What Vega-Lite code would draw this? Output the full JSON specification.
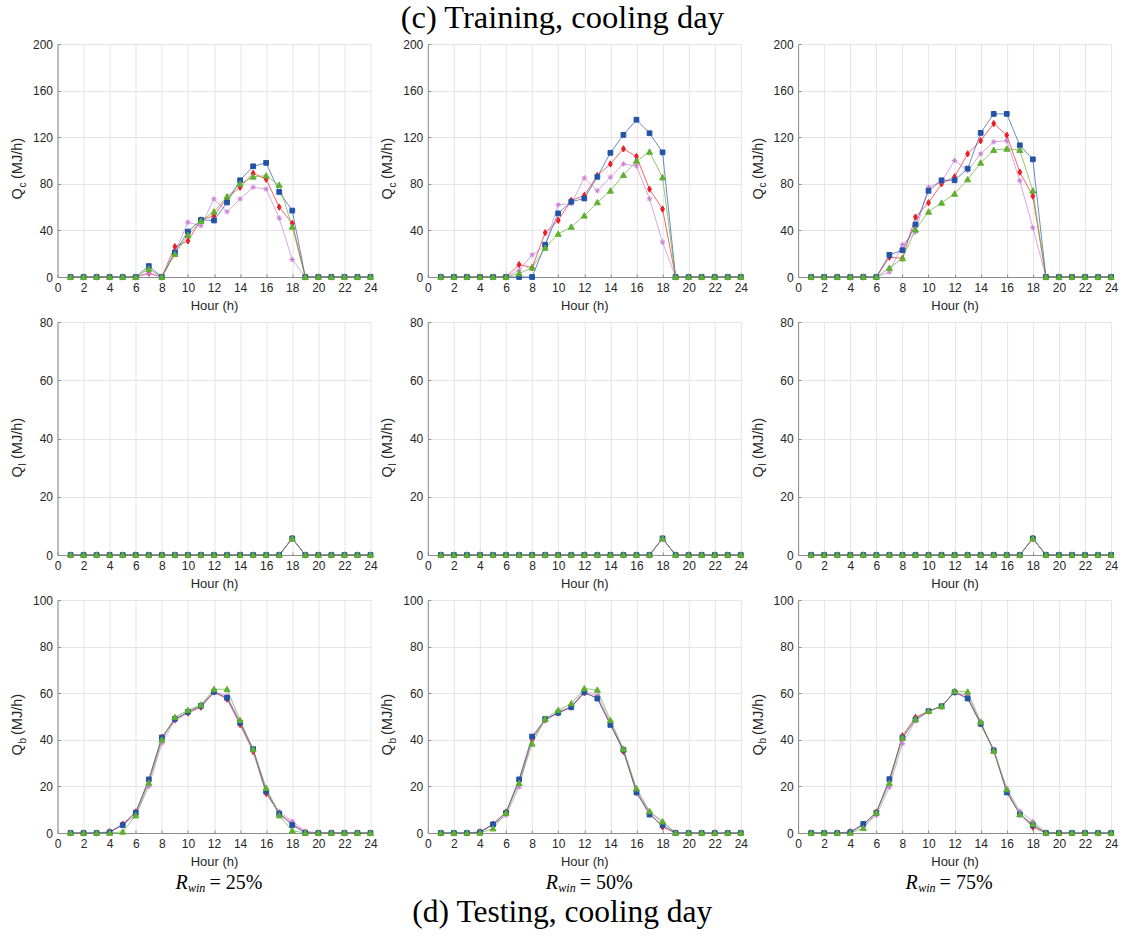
{
"$schema": "https://vega.github.io/schema/vega-lite/v6.json",
"background": "white",
"padding": {"left": 9.5, "top": 1, "right": 5, "bottom": 5},
"data": {"values": [
{"p":"c25","h":1,"A":0,"B":0,"C":0,"D":0},{"p":"c25","h":2,"A":0,"B":0,"C":0,"D":0},{"p":"c25","h":3,"A":0,"B":0,"C":0,"D":0},{"p":"c25","h":4,"A":0,"B":0,"C":0,"D":0},{"p":"c25","h":5,"A":0,"B":0,"C":0,"D":0},{"p":"c25","h":6,"A":0,"B":0,"C":0,"D":0},
{"p":"c25","h":7,"A":9.4,"B":3.4,"C":7,"D":3},{"p":"c25","h":8,"A":0,"B":0,"C":0,"D":0},{"p":"c25","h":9,"A":21,"B":26,"C":19.5,"D":21},{"p":"c25","h":10,"A":39,"B":31,"C":36,"D":47},
{"p":"c25","h":11,"A":49,"B":49,"C":48,"D":44},{"p":"c25","h":12,"A":48.5,"B":52.5,"C":56,"D":67},{"p":"c25","h":13,"A":64,"B":68,"C":69,"D":56},{"p":"c25","h":14,"A":83,"B":77,"C":80,"D":67},
{"p":"c25","h":15,"A":95,"B":89,"C":86,"D":77},{"p":"c25","h":16,"A":98,"B":84,"C":87,"D":75.5},{"p":"c25","h":17,"A":73,"B":60,"C":79,"D":50.5},{"p":"c25","h":18,"A":57,"B":46,"C":43,"D":15},
{"p":"c25","h":19,"A":0,"B":0,"C":0,"D":0},{"p":"c25","h":20,"A":0,"B":0,"C":0,"D":0},{"p":"c25","h":21,"A":0,"B":0,"C":0,"D":0},{"p":"c25","h":22,"A":0,"B":0,"C":0,"D":0},{"p":"c25","h":23,"A":0,"B":0,"C":0,"D":0},{"p":"c25","h":24,"A":0,"B":0,"C":0,"D":0},

{"p":"c50","h":1,"A":0,"B":0,"C":0,"D":0},{"p":"c50","h":2,"A":0,"B":0,"C":0,"D":0},{"p":"c50","h":3,"A":0,"B":0,"C":0,"D":0},{"p":"c50","h":4,"A":0,"B":0,"C":0,"D":0},{"p":"c50","h":5,"A":0,"B":0,"C":0,"D":0},{"p":"c50","h":6,"A":0,"B":0,"C":0,"D":0},
{"p":"c50","h":7,"A":0,"B":10.6,"C":3,"D":5.7},{"p":"c50","h":8,"A":0,"B":8,"C":8,"D":19},{"p":"c50","h":9,"A":27.7,"B":38,"C":25,"D":27},{"p":"c50","h":10,"A":54.6,"B":48.6,"C":37,"D":62},
{"p":"c50","h":11,"A":64.6,"B":65.7,"C":43,"D":63},{"p":"c50","h":12,"A":67.4,"B":70,"C":52.6,"D":85},{"p":"c50","h":13,"A":86,"B":87,"C":64,"D":74},{"p":"c50","h":14,"A":106.6,"B":97,"C":74,"D":85.7},
{"p":"c50","h":15,"A":122,"B":110,"C":87.4,"D":97},{"p":"c50","h":16,"A":135,"B":103.4,"C":99.7,"D":95.4},{"p":"c50","h":17,"A":123.4,"B":75.4,"C":107.4,"D":67},{"p":"c50","h":18,"A":107,"B":58.3,"C":85.4,"D":30},
{"p":"c50","h":19,"A":0,"B":0,"C":0,"D":0},{"p":"c50","h":20,"A":0,"B":0,"C":0,"D":0},{"p":"c50","h":21,"A":0,"B":0,"C":0,"D":0},{"p":"c50","h":22,"A":0,"B":0,"C":0,"D":0},{"p":"c50","h":23,"A":0,"B":0,"C":0,"D":0},{"p":"c50","h":24,"A":0,"B":0,"C":0,"D":0},

{"p":"c75","h":1,"A":0,"B":0,"C":0,"D":0},{"p":"c75","h":2,"A":0,"B":0,"C":0,"D":0},{"p":"c75","h":3,"A":0,"B":0,"C":0,"D":0},{"p":"c75","h":4,"A":0,"B":0,"C":0,"D":0},{"p":"c75","h":5,"A":0,"B":0,"C":0,"D":0},{"p":"c75","h":6,"A":0,"B":0,"C":0,"D":0},
{"p":"c75","h":7,"A":19,"B":17,"C":7.7,"D":4.3},{"p":"c75","h":8,"A":23,"B":16,"C":16,"D":27.7},{"p":"c75","h":9,"A":45,"B":51.4,"C":40.6,"D":38.6},{"p":"c75","h":10,"A":74,"B":63.7,"C":56,"D":77},
{"p":"c75","h":11,"A":83,"B":80,"C":63.7,"D":82},{"p":"c75","h":12,"A":83,"B":86,"C":71.4,"D":100},{"p":"c75","h":13,"A":93,"B":105.7,"C":83.7,"D":91.4},{"p":"c75","h":14,"A":123.7,"B":117,"C":98,"D":105.7},
{"p":"c75","h":15,"A":140,"B":131.7,"C":109,"D":116},{"p":"c75","h":16,"A":140,"B":121.7,"C":110,"D":117},{"p":"c75","h":17,"A":113,"B":90,"C":109,"D":82.6},{"p":"c75","h":18,"A":101,"B":69.4,"C":74,"D":42.3},
{"p":"c75","h":19,"A":0,"B":0,"C":0,"D":0},{"p":"c75","h":20,"A":0,"B":0,"C":0,"D":0},{"p":"c75","h":21,"A":0,"B":0,"C":0,"D":0},{"p":"c75","h":22,"A":0,"B":0,"C":0,"D":0},{"p":"c75","h":23,"A":0,"B":0,"C":0,"D":0},{"p":"c75","h":24,"A":0,"B":0,"C":0,"D":0},

{"p":"l25","h":1,"A":0,"B":0,"C":0,"D":0},{"p":"l25","h":2,"A":0,"B":0,"C":0,"D":0},{"p":"l25","h":3,"A":0,"B":0,"C":0,"D":0},{"p":"l25","h":4,"A":0,"B":0,"C":0,"D":0},{"p":"l25","h":5,"A":0,"B":0,"C":0,"D":0},{"p":"l25","h":6,"A":0,"B":0,"C":0,"D":0},
{"p":"l25","h":7,"A":0,"B":0,"C":0,"D":0},{"p":"l25","h":8,"A":0,"B":0,"C":0,"D":0},{"p":"l25","h":9,"A":0,"B":0,"C":0,"D":0},{"p":"l25","h":10,"A":0,"B":0,"C":0,"D":0},{"p":"l25","h":11,"A":0,"B":0,"C":0,"D":0},{"p":"l25","h":12,"A":0,"B":0,"C":0,"D":0},
{"p":"l25","h":13,"A":0,"B":0,"C":0,"D":0},{"p":"l25","h":14,"A":0,"B":0,"C":0,"D":0},{"p":"l25","h":15,"A":0,"B":0,"C":0,"D":0},{"p":"l25","h":16,"A":0,"B":0,"C":0,"D":0},{"p":"l25","h":17,"A":0,"B":0,"C":0,"D":0},{"p":"l25","h":18,"A":5.7,"B":5.7,"C":5.7,"D":5.7},
{"p":"l25","h":19,"A":0,"B":0,"C":0,"D":0},{"p":"l25","h":20,"A":0,"B":0,"C":0,"D":0},{"p":"l25","h":21,"A":0,"B":0,"C":0,"D":0},{"p":"l25","h":22,"A":0,"B":0,"C":0,"D":0},{"p":"l25","h":23,"A":0,"B":0,"C":0,"D":0},{"p":"l25","h":24,"A":0,"B":0,"C":0,"D":0},

{"p":"l50","h":1,"A":0,"B":0,"C":0,"D":0},{"p":"l50","h":2,"A":0,"B":0,"C":0,"D":0},{"p":"l50","h":3,"A":0,"B":0,"C":0,"D":0},{"p":"l50","h":4,"A":0,"B":0,"C":0,"D":0},{"p":"l50","h":5,"A":0,"B":0,"C":0,"D":0},{"p":"l50","h":6,"A":0,"B":0,"C":0,"D":0},
{"p":"l50","h":7,"A":0,"B":0,"C":0,"D":0},{"p":"l50","h":8,"A":0,"B":0,"C":0,"D":0},{"p":"l50","h":9,"A":0,"B":0,"C":0,"D":0},{"p":"l50","h":10,"A":0,"B":0,"C":0,"D":0},{"p":"l50","h":11,"A":0,"B":0,"C":0,"D":0},{"p":"l50","h":12,"A":0,"B":0,"C":0,"D":0},
{"p":"l50","h":13,"A":0,"B":0,"C":0,"D":0},{"p":"l50","h":14,"A":0,"B":0,"C":0,"D":0},{"p":"l50","h":15,"A":0,"B":0,"C":0,"D":0},{"p":"l50","h":16,"A":0,"B":0,"C":0,"D":0},{"p":"l50","h":17,"A":0,"B":0,"C":0,"D":0},{"p":"l50","h":18,"A":5.7,"B":5.7,"C":5.7,"D":5.7},
{"p":"l50","h":19,"A":0,"B":0,"C":0,"D":0},{"p":"l50","h":20,"A":0,"B":0,"C":0,"D":0},{"p":"l50","h":21,"A":0,"B":0,"C":0,"D":0},{"p":"l50","h":22,"A":0,"B":0,"C":0,"D":0},{"p":"l50","h":23,"A":0,"B":0,"C":0,"D":0},{"p":"l50","h":24,"A":0,"B":0,"C":0,"D":0},

{"p":"l75","h":1,"A":0,"B":0,"C":0,"D":0},{"p":"l75","h":2,"A":0,"B":0,"C":0,"D":0},{"p":"l75","h":3,"A":0,"B":0,"C":0,"D":0},{"p":"l75","h":4,"A":0,"B":0,"C":0,"D":0},{"p":"l75","h":5,"A":0,"B":0,"C":0,"D":0},{"p":"l75","h":6,"A":0,"B":0,"C":0,"D":0},
{"p":"l75","h":7,"A":0,"B":0,"C":0,"D":0},{"p":"l75","h":8,"A":0,"B":0,"C":0,"D":0},{"p":"l75","h":9,"A":0,"B":0,"C":0,"D":0},{"p":"l75","h":10,"A":0,"B":0,"C":0,"D":0},{"p":"l75","h":11,"A":0,"B":0,"C":0,"D":0},{"p":"l75","h":12,"A":0,"B":0,"C":0,"D":0},
{"p":"l75","h":13,"A":0,"B":0,"C":0,"D":0},{"p":"l75","h":14,"A":0,"B":0,"C":0,"D":0},{"p":"l75","h":15,"A":0,"B":0,"C":0,"D":0},{"p":"l75","h":16,"A":0,"B":0,"C":0,"D":0},{"p":"l75","h":17,"A":0,"B":0,"C":0,"D":0},{"p":"l75","h":18,"A":5.7,"B":5.7,"C":5.7,"D":5.7},
{"p":"l75","h":19,"A":0,"B":0,"C":0,"D":0},{"p":"l75","h":20,"A":0,"B":0,"C":0,"D":0},{"p":"l75","h":21,"A":0,"B":0,"C":0,"D":0},{"p":"l75","h":22,"A":0,"B":0,"C":0,"D":0},{"p":"l75","h":23,"A":0,"B":0,"C":0,"D":0},{"p":"l75","h":24,"A":0,"B":0,"C":0,"D":0},

{"p":"b25","h":1,"A":0,"B":0,"C":0,"D":0},{"p":"b25","h":2,"A":0,"B":0,"C":0,"D":0},{"p":"b25","h":3,"A":0,"B":0,"C":0,"D":0},{"p":"b25","h":4,"A":0.3,"B":0.5,"C":0,"D":0.3},
{"p":"b25","h":5,"A":3.4,"B":3.8,"C":0.5,"D":3.5},{"p":"b25","h":6,"A":8.7,"B":9,"C":7.5,"D":7.5},{"p":"b25","h":7,"A":23,"B":22.5,"C":21.5,"D":20},{"p":"b25","h":8,"A":41,"B":41,"C":40,"D":38.5},
{"p":"b25","h":9,"A":49,"B":48.5,"C":49.7,"D":48.5},{"p":"b25","h":10,"A":52,"B":51.5,"C":52.7,"D":52},{"p":"b25","h":11,"A":54.6,"B":54,"C":55,"D":54.5},{"p":"b25","h":12,"A":60.6,"B":60.5,"C":61.7,"D":60.5},
{"p":"b25","h":13,"A":58,"B":57.5,"C":61.7,"D":59},{"p":"b25","h":14,"A":47.3,"B":46.5,"C":48.4,"D":47.5},{"p":"b25","h":15,"A":36,"B":35,"C":36,"D":35.5},{"p":"b25","h":16,"A":17.8,"B":17,"C":19.3,"D":18.5},
{"p":"b25","h":17,"A":8.3,"B":8.5,"C":7.5,"D":9.2},{"p":"b25","h":18,"A":3.4,"B":4,"C":1,"D":5},{"p":"b25","h":19,"A":0,"B":0.3,"C":0,"D":0.8},{"p":"b25","h":20,"A":0,"B":0,"C":0,"D":0},
{"p":"b25","h":21,"A":0,"B":0,"C":0,"D":0},{"p":"b25","h":22,"A":0,"B":0,"C":0,"D":0},{"p":"b25","h":23,"A":0,"B":0,"C":0,"D":0},{"p":"b25","h":24,"A":0,"B":0,"C":0,"D":0},

{"p":"b50","h":1,"A":0,"B":0,"C":0,"D":0},{"p":"b50","h":2,"A":0,"B":0,"C":0,"D":0},{"p":"b50","h":3,"A":0,"B":0,"C":0,"D":0},{"p":"b50","h":4,"A":0.3,"B":0.5,"C":0,"D":0.3},
{"p":"b50","h":5,"A":3.7,"B":3.8,"C":1.9,"D":3.5},{"p":"b50","h":6,"A":8.7,"B":9,"C":8.6,"D":7.6},{"p":"b50","h":7,"A":23,"B":22.5,"C":21.4,"D":19.7},{"p":"b50","h":8,"A":41.4,"B":40.3,"C":38.3,"D":40.9},
{"p":"b50","h":9,"A":48.9,"B":48.5,"C":49,"D":48.3},{"p":"b50","h":10,"A":51.6,"B":51.5,"C":52.7,"D":52},{"p":"b50","h":11,"A":54,"B":54,"C":55.6,"D":54.5},{"p":"b50","h":12,"A":60.4,"B":60.2,"C":62,"D":61},
{"p":"b50","h":13,"A":57.7,"B":58,"C":61.4,"D":59},{"p":"b50","h":14,"A":46.4,"B":46.8,"C":48.4,"D":47.5},{"p":"b50","h":15,"A":35.7,"B":35,"C":36.1,"D":35.5},{"p":"b50","h":16,"A":17.4,"B":17.5,"C":19.1,"D":18.5},
{"p":"b50","h":17,"A":7.9,"B":8.5,"C":9.3,"D":9},{"p":"b50","h":18,"A":3.3,"B":2.6,"C":4.9,"D":4.5},{"p":"b50","h":19,"A":0,"B":0,"C":0,"D":0.3},{"p":"b50","h":20,"A":0,"B":0,"C":0,"D":0},
{"p":"b50","h":21,"A":0,"B":0,"C":0,"D":0},{"p":"b50","h":22,"A":0,"B":0,"C":0,"D":0},{"p":"b50","h":23,"A":0,"B":0,"C":0,"D":0},{"p":"b50","h":24,"A":0,"B":0,"C":0,"D":0},

{"p":"b75","h":1,"A":0,"B":0,"C":0,"D":0},{"p":"b75","h":2,"A":0,"B":0,"C":0,"D":0},{"p":"b75","h":3,"A":0,"B":0,"C":0,"D":0},{"p":"b75","h":4,"A":0.3,"B":0.5,"C":0,"D":0.3},
{"p":"b75","h":5,"A":3.9,"B":3.5,"C":2.1,"D":3.2},{"p":"b75","h":6,"A":8.7,"B":9,"C":8.7,"D":7.5},{"p":"b75","h":7,"A":23.1,"B":22.5,"C":21.4,"D":19.7},{"p":"b75","h":8,"A":40.9,"B":41.7,"C":40.8,"D":38.3},
{"p":"b75","h":9,"A":48.7,"B":49.6,"C":48.8,"D":48.3},{"p":"b75","h":10,"A":52.3,"B":52.3,"C":52.3,"D":52},{"p":"b75","h":11,"A":54.4,"B":54.4,"C":54.4,"D":54.5},{"p":"b75","h":12,"A":60.4,"B":60.5,"C":60.9,"D":60.5},
{"p":"b75","h":13,"A":57.7,"B":58,"C":60.6,"D":59},{"p":"b75","h":14,"A":46.9,"B":46.8,"C":47.7,"D":47.5},{"p":"b75","h":15,"A":35.4,"B":35.5,"C":35.2,"D":35.8},{"p":"b75","h":16,"A":17.4,"B":17.8,"C":18.7,"D":19.1},
{"p":"b75","h":17,"A":8,"B":8.3,"C":8,"D":9.4},{"p":"b75","h":18,"A":3.4,"B":2.5,"C":3.9,"D":4.9},{"p":"b75","h":19,"A":0,"B":0,"C":0,"D":0.3},{"p":"b75","h":20,"A":0,"B":0,"C":0,"D":0},
{"p":"b75","h":21,"A":0,"B":0,"C":0,"D":0},{"p":"b75","h":22,"A":0,"B":0,"C":0,"D":0},{"p":"b75","h":23,"A":0,"B":0,"C":0,"D":0},{"p":"b75","h":24,"A":0,"B":0,"C":0,"D":0}
]},
"transform": [{"fold": ["B", "D", "A", "C"], "as": ["s", "v"]}],
"columns": 3,
"spacing": {"row": 45, "column": 57.3},
"bounds": "flush",
"concat": [
{"width": 313, "height": 233, "transform": [{"filter": "datum.p === 'c25'"}],
 "layer": [
  {"mark": {"type": "line", "strokeWidth": 0.8, "strokeOpacity": 0.85},
   "encoding": {
    "x": {"field": "h", "type": "quantitative", "scale": {"domain": [0, 24], "nice": false, "zero": false}, "axis": {"values": [0,2,4,6,8,10,12,14,16,18,20,22,24], "labelFlush": false, "labelOverlap": false, "title": "Hour (h)", "titleX": 156.5, "titleY": 32, "titleAlign": "center", "titleBaseline": "alphabetic", "titleFontSize": 13}},
    "y": {"field": "v", "type": "quantitative", "scale": {"domain": [0, 200], "nice": false}, "axis": {"values": [0,40,80,120,160,200], "title": "Q", "titleFontSize": 14.5, "titleAngle": 270, "titleX": -36, "titleY": 155, "titleAlign": "left", "titleBaseline": "alphabetic"}},
    "color": {"field": "s", "type": "nominal", "scale": {"domain": ["A","B","C","D"], "range": ["#2353a8","#ed1c24","#5fb030","#c87dd2"]}, "legend": null}}},
  {"mark": {"type": "point", "filled": true, "opacity": 1, "strokeWidth": 1, "size": 40},
   "encoding": {
    "x": {"field": "h", "type": "quantitative", "axis": null},
    "y": {"field": "v", "type": "quantitative", "axis": {"orient": "left", "title": "c", "labels": false, "ticks": false, "domain": false, "grid": false, "titleFontSize": 10, "titleAngle": 270, "titleX": -32.5, "titleY": 143, "titleAlign": "left", "titleBaseline": "alphabetic"}},
    "color": {"field": "s", "type": "nominal", "scale": {"domain": ["A","B","C","D"], "range": ["#2353a8","#ed1c24","#5fb030","#c87dd2"]}, "legend": null},
    "stroke": {"field": "s", "type": "nominal", "scale": {"domain": ["A","B","C","D"], "range": ["#2353a8","#ed1c24","#5fb030","#c87dd2"]}, "legend": null},
    "shape": {"field": "s", "type": "nominal", "scale": {"domain": ["A","B","C","D"], "range": ["M-0.75,-0.75L0.75,-0.75L0.75,0.75L-0.75,0.75Z","M0,-1L0.6,0L0,1L-0.6,0Z","M0,-0.95L0.95,0.75L-0.95,0.75Z","M-0.85,0L0.85,0M0,-0.85L0,0.85M-0.6,-0.6L0.6,0.6M-0.6,0.6L0.6,-0.6"]}, "legend": null}}},
  {"mark": {"type": "point", "opacity": 0},
   "encoding": {
    "x": {"field": "h", "type": "quantitative", "axis": null},
    "y": {"field": "v", "type": "quantitative", "axis": {"orient": "left", "title": "(MJ/h)", "labels": false, "ticks": false, "domain": false, "grid": false, "titleFontSize": 14.5, "titleAngle": 270, "titleX": -36, "titleY": 134.5, "titleAlign": "left", "titleBaseline": "alphabetic"}}}}
 ],
 "resolve": {"axis": {"x": "independent", "y": "independent"}}},

{"width": 313, "height": 233, "transform": [{"filter": "datum.p === 'c50'"}],
 "layer": [
  {"mark": {"type": "line", "strokeWidth": 0.8, "strokeOpacity": 0.85},
   "encoding": {
    "x": {"field": "h", "type": "quantitative", "scale": {"domain": [0, 24], "nice": false, "zero": false}, "axis": {"values": [0,2,4,6,8,10,12,14,16,18,20,22,24], "labelFlush": false, "labelOverlap": false, "title": "Hour (h)", "titleX": 156.5, "titleY": 32, "titleAlign": "center", "titleBaseline": "alphabetic", "titleFontSize": 13}},
    "y": {"field": "v", "type": "quantitative", "scale": {"domain": [0, 200], "nice": false}, "axis": {"values": [0,40,80,120,160,200], "title": "Q", "titleFontSize": 14.5, "titleAngle": 270, "titleX": -36, "titleY": 155, "titleAlign": "left", "titleBaseline": "alphabetic"}},
    "color": {"field": "s", "type": "nominal", "scale": {"domain": ["A","B","C","D"], "range": ["#2353a8","#ed1c24","#5fb030","#c87dd2"]}, "legend": null}}},
  {"mark": {"type": "point", "filled": true, "opacity": 1, "strokeWidth": 1, "size": 40},
   "encoding": {
    "x": {"field": "h", "type": "quantitative", "axis": {"orient": "top", "title": "(c) Training, cooling day", "labels": false, "ticks": false, "domain": false, "grid": false, "titleFont": "Liberation Serif", "titleFontSize": 32.5, "titleColor": "#000000", "titleX": 134, "titleY": -16.3, "titleAlign": "center", "titleBaseline": "alphabetic"}},
    "y": {"field": "v", "type": "quantitative", "axis": {"orient": "left", "title": "c", "labels": false, "ticks": false, "domain": false, "grid": false, "titleFontSize": 10, "titleAngle": 270, "titleX": -32.5, "titleY": 143, "titleAlign": "left", "titleBaseline": "alphabetic"}},
    "color": {"field": "s", "type": "nominal", "scale": {"domain": ["A","B","C","D"], "range": ["#2353a8","#ed1c24","#5fb030","#c87dd2"]}, "legend": null},
    "stroke": {"field": "s", "type": "nominal", "scale": {"domain": ["A","B","C","D"], "range": ["#2353a8","#ed1c24","#5fb030","#c87dd2"]}, "legend": null},
    "shape": {"field": "s", "type": "nominal", "scale": {"domain": ["A","B","C","D"], "range": ["M-0.75,-0.75L0.75,-0.75L0.75,0.75L-0.75,0.75Z","M0,-1L0.6,0L0,1L-0.6,0Z","M0,-0.95L0.95,0.75L-0.95,0.75Z","M-0.85,0L0.85,0M0,-0.85L0,0.85M-0.6,-0.6L0.6,0.6M-0.6,0.6L0.6,-0.6"]}, "legend": null}}},
  {"mark": {"type": "point", "opacity": 0},
   "encoding": {
    "x": {"field": "h", "type": "quantitative", "axis": null},
    "y": {"field": "v", "type": "quantitative", "axis": {"orient": "left", "title": "(MJ/h)", "labels": false, "ticks": false, "domain": false, "grid": false, "titleFontSize": 14.5, "titleAngle": 270, "titleX": -36, "titleY": 134.5, "titleAlign": "left", "titleBaseline": "alphabetic"}}}}
 ],
 "resolve": {"axis": {"x": "independent", "y": "independent"}}},

{"width": 313, "height": 233, "transform": [{"filter": "datum.p === 'c75'"}],
 "layer": [
  {"mark": {"type": "line", "strokeWidth": 0.8, "strokeOpacity": 0.85},
   "encoding": {
    "x": {"field": "h", "type": "quantitative", "scale": {"domain": [0, 24], "nice": false, "zero": false}, "axis": {"values": [0,2,4,6,8,10,12,14,16,18,20,22,24], "labelFlush": false, "labelOverlap": false, "title": "Hour (h)", "titleX": 156.5, "titleY": 32, "titleAlign": "center", "titleBaseline": "alphabetic", "titleFontSize": 13}},
    "y": {"field": "v", "type": "quantitative", "scale": {"domain": [0, 200], "nice": false}, "axis": {"values": [0,40,80,120,160,200], "title": "Q", "titleFontSize": 14.5, "titleAngle": 270, "titleX": -36, "titleY": 155, "titleAlign": "left", "titleBaseline": "alphabetic"}},
    "color": {"field": "s", "type": "nominal", "scale": {"domain": ["A","B","C","D"], "range": ["#2353a8","#ed1c24","#5fb030","#c87dd2"]}, "legend": null}}},
  {"mark": {"type": "point", "filled": true, "opacity": 1, "strokeWidth": 1, "size": 40},
   "encoding": {
    "x": {"field": "h", "type": "quantitative", "axis": null},
    "y": {"field": "v", "type": "quantitative", "axis": {"orient": "left", "title": "c", "labels": false, "ticks": false, "domain": false, "grid": false, "titleFontSize": 10, "titleAngle": 270, "titleX": -32.5, "titleY": 143, "titleAlign": "left", "titleBaseline": "alphabetic"}},
    "color": {"field": "s", "type": "nominal", "scale": {"domain": ["A","B","C","D"], "range": ["#2353a8","#ed1c24","#5fb030","#c87dd2"]}, "legend": null},
    "stroke": {"field": "s", "type": "nominal", "scale": {"domain": ["A","B","C","D"], "range": ["#2353a8","#ed1c24","#5fb030","#c87dd2"]}, "legend": null},
    "shape": {"field": "s", "type": "nominal", "scale": {"domain": ["A","B","C","D"], "range": ["M-0.75,-0.75L0.75,-0.75L0.75,0.75L-0.75,0.75Z","M0,-1L0.6,0L0,1L-0.6,0Z","M0,-0.95L0.95,0.75L-0.95,0.75Z","M-0.85,0L0.85,0M0,-0.85L0,0.85M-0.6,-0.6L0.6,0.6M-0.6,0.6L0.6,-0.6"]}, "legend": null}}},
  {"mark": {"type": "point", "opacity": 0},
   "encoding": {
    "x": {"field": "h", "type": "quantitative", "axis": null},
    "y": {"field": "v", "type": "quantitative", "axis": {"orient": "left", "title": "(MJ/h)", "labels": false, "ticks": false, "domain": false, "grid": false, "titleFontSize": 14.5, "titleAngle": 270, "titleX": -36, "titleY": 134.5, "titleAlign": "left", "titleBaseline": "alphabetic"}}}}
 ],
 "resolve": {"axis": {"x": "independent", "y": "independent"}}},

{"width": 313, "height": 233, "transform": [{"filter": "datum.p === 'l25'"}],
 "layer": [
  {"mark": {"type": "line", "strokeWidth": 0.8, "strokeOpacity": 0.85},
   "encoding": {
    "x": {"field": "h", "type": "quantitative", "scale": {"domain": [0, 24], "nice": false, "zero": false}, "axis": {"values": [0,2,4,6,8,10,12,14,16,18,20,22,24], "labelFlush": false, "labelOverlap": false, "title": "Hour (h)", "titleX": 156.5, "titleY": 32, "titleAlign": "center", "titleBaseline": "alphabetic", "titleFontSize": 13}},
    "y": {"field": "v", "type": "quantitative", "scale": {"domain": [0, 80], "nice": false}, "axis": {"values": [0,20,40,60,80], "title": "Q", "titleFontSize": 14.5, "titleAngle": 270, "titleX": -36, "titleY": 155, "titleAlign": "left", "titleBaseline": "alphabetic"}},
    "color": {"field": "s", "type": "nominal", "scale": {"domain": ["A","B","C","D"], "range": ["#2353a8","#ed1c24","#5fb030","#c87dd2"]}, "legend": null}}},
  {"mark": {"type": "point", "filled": true, "opacity": 1, "strokeWidth": 1, "size": 40},
   "encoding": {
    "x": {"field": "h", "type": "quantitative", "axis": null},
    "y": {"field": "v", "type": "quantitative", "axis": {"orient": "left", "title": "l", "labels": false, "ticks": false, "domain": false, "grid": false, "titleFontSize": 10, "titleAngle": 270, "titleX": -32.5, "titleY": 143, "titleAlign": "left", "titleBaseline": "alphabetic"}},
    "color": {"field": "s", "type": "nominal", "scale": {"domain": ["A","B","C","D"], "range": ["#2353a8","#ed1c24","#5fb030","#c87dd2"]}, "legend": null},
    "stroke": {"field": "s", "type": "nominal", "scale": {"domain": ["A","B","C","D"], "range": ["#2353a8","#ed1c24","#5fb030","#c87dd2"]}, "legend": null},
    "shape": {"field": "s", "type": "nominal", "scale": {"domain": ["A","B","C","D"], "range": ["M-0.75,-0.75L0.75,-0.75L0.75,0.75L-0.75,0.75Z","M0,-1L0.6,0L0,1L-0.6,0Z","M0,-0.95L0.95,0.75L-0.95,0.75Z","M-0.85,0L0.85,0M0,-0.85L0,0.85M-0.6,-0.6L0.6,0.6M-0.6,0.6L0.6,-0.6"]}, "legend": null}}},
  {"mark": {"type": "point", "opacity": 0},
   "encoding": {
    "x": {"field": "h", "type": "quantitative", "axis": null},
    "y": {"field": "v", "type": "quantitative", "axis": {"orient": "left", "title": "(MJ/h)", "labels": false, "ticks": false, "domain": false, "grid": false, "titleFontSize": 14.5, "titleAngle": 270, "titleX": -36, "titleY": 136.5, "titleAlign": "left", "titleBaseline": "alphabetic"}}}}
 ],
 "resolve": {"axis": {"x": "independent", "y": "independent"}}},

{"width": 313, "height": 233, "transform": [{"filter": "datum.p === 'l50'"}],
 "layer": [
  {"mark": {"type": "line", "strokeWidth": 0.8, "strokeOpacity": 0.85},
   "encoding": {
    "x": {"field": "h", "type": "quantitative", "scale": {"domain": [0, 24], "nice": false, "zero": false}, "axis": {"values": [0,2,4,6,8,10,12,14,16,18,20,22,24], "labelFlush": false, "labelOverlap": false, "title": "Hour (h)", "titleX": 156.5, "titleY": 32, "titleAlign": "center", "titleBaseline": "alphabetic", "titleFontSize": 13}},
    "y": {"field": "v", "type": "quantitative", "scale": {"domain": [0, 80], "nice": false}, "axis": {"values": [0,20,40,60,80], "title": "Q", "titleFontSize": 14.5, "titleAngle": 270, "titleX": -36, "titleY": 155, "titleAlign": "left", "titleBaseline": "alphabetic"}},
    "color": {"field": "s", "type": "nominal", "scale": {"domain": ["A","B","C","D"], "range": ["#2353a8","#ed1c24","#5fb030","#c87dd2"]}, "legend": null}}},
  {"mark": {"type": "point", "filled": true, "opacity": 1, "strokeWidth": 1, "size": 40},
   "encoding": {
    "x": {"field": "h", "type": "quantitative", "axis": null},
    "y": {"field": "v", "type": "quantitative", "axis": {"orient": "left", "title": "l", "labels": false, "ticks": false, "domain": false, "grid": false, "titleFontSize": 10, "titleAngle": 270, "titleX": -32.5, "titleY": 143, "titleAlign": "left", "titleBaseline": "alphabetic"}},
    "color": {"field": "s", "type": "nominal", "scale": {"domain": ["A","B","C","D"], "range": ["#2353a8","#ed1c24","#5fb030","#c87dd2"]}, "legend": null},
    "stroke": {"field": "s", "type": "nominal", "scale": {"domain": ["A","B","C","D"], "range": ["#2353a8","#ed1c24","#5fb030","#c87dd2"]}, "legend": null},
    "shape": {"field": "s", "type": "nominal", "scale": {"domain": ["A","B","C","D"], "range": ["M-0.75,-0.75L0.75,-0.75L0.75,0.75L-0.75,0.75Z","M0,-1L0.6,0L0,1L-0.6,0Z","M0,-0.95L0.95,0.75L-0.95,0.75Z","M-0.85,0L0.85,0M0,-0.85L0,0.85M-0.6,-0.6L0.6,0.6M-0.6,0.6L0.6,-0.6"]}, "legend": null}}},
  {"mark": {"type": "point", "opacity": 0},
   "encoding": {
    "x": {"field": "h", "type": "quantitative", "axis": null},
    "y": {"field": "v", "type": "quantitative", "axis": {"orient": "left", "title": "(MJ/h)", "labels": false, "ticks": false, "domain": false, "grid": false, "titleFontSize": 14.5, "titleAngle": 270, "titleX": -36, "titleY": 136.5, "titleAlign": "left", "titleBaseline": "alphabetic"}}}}
 ],
 "resolve": {"axis": {"x": "independent", "y": "independent"}}},

{"width": 313, "height": 233, "transform": [{"filter": "datum.p === 'l75'"}],
 "layer": [
  {"mark": {"type": "line", "strokeWidth": 0.8, "strokeOpacity": 0.85},
   "encoding": {
    "x": {"field": "h", "type": "quantitative", "scale": {"domain": [0, 24], "nice": false, "zero": false}, "axis": {"values": [0,2,4,6,8,10,12,14,16,18,20,22,24], "labelFlush": false, "labelOverlap": false, "title": "Hour (h)", "titleX": 156.5, "titleY": 32, "titleAlign": "center", "titleBaseline": "alphabetic", "titleFontSize": 13}},
    "y": {"field": "v", "type": "quantitative", "scale": {"domain": [0, 80], "nice": false}, "axis": {"values": [0,20,40,60,80], "title": "Q", "titleFontSize": 14.5, "titleAngle": 270, "titleX": -36, "titleY": 155, "titleAlign": "left", "titleBaseline": "alphabetic"}},
    "color": {"field": "s", "type": "nominal", "scale": {"domain": ["A","B","C","D"], "range": ["#2353a8","#ed1c24","#5fb030","#c87dd2"]}, "legend": null}}},
  {"mark": {"type": "point", "filled": true, "opacity": 1, "strokeWidth": 1, "size": 40},
   "encoding": {
    "x": {"field": "h", "type": "quantitative", "axis": null},
    "y": {"field": "v", "type": "quantitative", "axis": {"orient": "left", "title": "l", "labels": false, "ticks": false, "domain": false, "grid": false, "titleFontSize": 10, "titleAngle": 270, "titleX": -32.5, "titleY": 143, "titleAlign": "left", "titleBaseline": "alphabetic"}},
    "color": {"field": "s", "type": "nominal", "scale": {"domain": ["A","B","C","D"], "range": ["#2353a8","#ed1c24","#5fb030","#c87dd2"]}, "legend": null},
    "stroke": {"field": "s", "type": "nominal", "scale": {"domain": ["A","B","C","D"], "range": ["#2353a8","#ed1c24","#5fb030","#c87dd2"]}, "legend": null},
    "shape": {"field": "s", "type": "nominal", "scale": {"domain": ["A","B","C","D"], "range": ["M-0.75,-0.75L0.75,-0.75L0.75,0.75L-0.75,0.75Z","M0,-1L0.6,0L0,1L-0.6,0Z","M0,-0.95L0.95,0.75L-0.95,0.75Z","M-0.85,0L0.85,0M0,-0.85L0,0.85M-0.6,-0.6L0.6,0.6M-0.6,0.6L0.6,-0.6"]}, "legend": null}}},
  {"mark": {"type": "point", "opacity": 0},
   "encoding": {
    "x": {"field": "h", "type": "quantitative", "axis": null},
    "y": {"field": "v", "type": "quantitative", "axis": {"orient": "left", "title": "(MJ/h)", "labels": false, "ticks": false, "domain": false, "grid": false, "titleFontSize": 14.5, "titleAngle": 270, "titleX": -36, "titleY": 136.5, "titleAlign": "left", "titleBaseline": "alphabetic"}}}}
 ],
 "resolve": {"axis": {"x": "independent", "y": "independent"}}},

{"width": 313, "height": 233, "transform": [{"filter": "datum.p === 'b25'"}],
 "layer": [
  {"mark": {"type": "line", "strokeWidth": 0.8, "strokeOpacity": 0.85},
   "encoding": {
    "x": {"field": "h", "type": "quantitative", "scale": {"domain": [0, 24], "nice": false, "zero": false}, "axis": {"values": [0,2,4,6,8,10,12,14,16,18,20,22,24], "labelFlush": false, "labelOverlap": false, "title": "Hour (h)", "titleX": 156.5, "titleY": 32, "titleAlign": "center", "titleBaseline": "alphabetic", "titleFontSize": 13}},
    "y": {"field": "v", "type": "quantitative", "scale": {"domain": [0, 100], "nice": false}, "axis": {"values": [0,20,40,60,80,100], "title": "Q", "titleFontSize": 14.5, "titleAngle": 270, "titleX": -36, "titleY": 155, "titleAlign": "left", "titleBaseline": "alphabetic"}},
    "color": {"field": "s", "type": "nominal", "scale": {"domain": ["A","B","C","D"], "range": ["#2353a8","#ed1c24","#5fb030","#c87dd2"]}, "legend": null}}},
  {"mark": {"type": "point", "filled": true, "opacity": 1, "strokeWidth": 1, "size": 40},
   "encoding": {
    "x": {"field": "h", "type": "quantitative", "axis": {"orient": "bottom", "title": "R", "labels": false, "ticks": false, "domain": false, "grid": false, "titleFont": "Liberation Serif", "titleFontStyle": "italic", "titleFontSize": 20, "titleColor": "#000000", "titleX": 117.4, "titleY": 55, "titleAlign": "left", "titleBaseline": "alphabetic"}},
    "y": {"field": "v", "type": "quantitative", "axis": {"orient": "left", "title": "b", "labels": false, "ticks": false, "domain": false, "grid": false, "titleFontSize": 10, "titleAngle": 270, "titleX": -32.5, "titleY": 143, "titleAlign": "left", "titleBaseline": "alphabetic"}},
    "color": {"field": "s", "type": "nominal", "scale": {"domain": ["A","B","C","D"], "range": ["#2353a8","#ed1c24","#5fb030","#c87dd2"]}, "legend": null},
    "stroke": {"field": "s", "type": "nominal", "scale": {"domain": ["A","B","C","D"], "range": ["#2353a8","#ed1c24","#5fb030","#c87dd2"]}, "legend": null},
    "shape": {"field": "s", "type": "nominal", "scale": {"domain": ["A","B","C","D"], "range": ["M-0.75,-0.75L0.75,-0.75L0.75,0.75L-0.75,0.75Z","M0,-1L0.6,0L0,1L-0.6,0Z","M0,-0.95L0.95,0.75L-0.95,0.75Z","M-0.85,0L0.85,0M0,-0.85L0,0.85M-0.6,-0.6L0.6,0.6M-0.6,0.6L0.6,-0.6"]}, "legend": null}}},
  {"mark": {"type": "point", "opacity": 0},
   "encoding": {
    "x": {"field": "h", "type": "quantitative", "axis": {"orient": "bottom", "title": "win", "labels": false, "ticks": false, "domain": false, "grid": false, "titleFont": "Liberation Serif", "titleFontStyle": "italic", "titleFontSize": 12, "titleColor": "#000000", "titleX": 130, "titleY": 58.5, "titleAlign": "left", "titleBaseline": "alphabetic"}},
    "y": {"field": "v", "type": "quantitative", "axis": {"orient": "left", "title": "(MJ/h)", "labels": false, "ticks": false, "domain": false, "grid": false, "titleFontSize": 14.5, "titleAngle": 270, "titleX": -36, "titleY": 134.5, "titleAlign": "left", "titleBaseline": "alphabetic"}}}},
  {"mark": {"type": "point", "opacity": 0},
   "encoding": {
    "x": {"field": "h", "type": "quantitative", "axis": {"orient": "bottom", "title": "= 25%", "labels": false, "ticks": false, "domain": false, "grid": false, "titleFont": "Liberation Serif", "titleFontSize": 20, "titleColor": "#000000", "titleX": 151.5, "titleY": 55, "titleAlign": "left", "titleBaseline": "alphabetic"}},
    "y": {"field": "v", "type": "quantitative", "axis": null}}}
 ],
 "resolve": {"axis": {"x": "independent", "y": "independent"}}},

{"width": 313, "height": 233, "transform": [{"filter": "datum.p === 'b50'"}],
 "layer": [
  {"mark": {"type": "line", "strokeWidth": 0.8, "strokeOpacity": 0.85},
   "encoding": {
    "x": {"field": "h", "type": "quantitative", "scale": {"domain": [0, 24], "nice": false, "zero": false}, "axis": {"values": [0,2,4,6,8,10,12,14,16,18,20,22,24], "labelFlush": false, "labelOverlap": false, "title": "Hour (h)", "titleX": 156.5, "titleY": 32, "titleAlign": "center", "titleBaseline": "alphabetic", "titleFontSize": 13}},
    "y": {"field": "v", "type": "quantitative", "scale": {"domain": [0, 100], "nice": false}, "axis": {"values": [0,20,40,60,80,100], "title": "Q", "titleFontSize": 14.5, "titleAngle": 270, "titleX": -36, "titleY": 155, "titleAlign": "left", "titleBaseline": "alphabetic"}},
    "color": {"field": "s", "type": "nominal", "scale": {"domain": ["A","B","C","D"], "range": ["#2353a8","#ed1c24","#5fb030","#c87dd2"]}, "legend": null}}},
  {"mark": {"type": "point", "filled": true, "opacity": 1, "strokeWidth": 1, "size": 40},
   "encoding": {
    "x": {"field": "h", "type": "quantitative", "axis": {"orient": "bottom", "title": "R", "labels": false, "ticks": false, "domain": false, "grid": false, "titleFont": "Liberation Serif", "titleFontStyle": "italic", "titleFontSize": 20, "titleColor": "#000000", "titleX": 117.4, "titleY": 55, "titleAlign": "left", "titleBaseline": "alphabetic"}},
    "y": {"field": "v", "type": "quantitative", "axis": {"orient": "left", "title": "b", "labels": false, "ticks": false, "domain": false, "grid": false, "titleFontSize": 10, "titleAngle": 270, "titleX": -32.5, "titleY": 143, "titleAlign": "left", "titleBaseline": "alphabetic"}},
    "color": {"field": "s", "type": "nominal", "scale": {"domain": ["A","B","C","D"], "range": ["#2353a8","#ed1c24","#5fb030","#c87dd2"]}, "legend": null},
    "stroke": {"field": "s", "type": "nominal", "scale": {"domain": ["A","B","C","D"], "range": ["#2353a8","#ed1c24","#5fb030","#c87dd2"]}, "legend": null},
    "shape": {"field": "s", "type": "nominal", "scale": {"domain": ["A","B","C","D"], "range": ["M-0.75,-0.75L0.75,-0.75L0.75,0.75L-0.75,0.75Z","M0,-1L0.6,0L0,1L-0.6,0Z","M0,-0.95L0.95,0.75L-0.95,0.75Z","M-0.85,0L0.85,0M0,-0.85L0,0.85M-0.6,-0.6L0.6,0.6M-0.6,0.6L0.6,-0.6"]}, "legend": null}}},
  {"mark": {"type": "point", "opacity": 0},
   "encoding": {
    "x": {"field": "h", "type": "quantitative", "axis": {"orient": "bottom", "title": "win", "labels": false, "ticks": false, "domain": false, "grid": false, "titleFont": "Liberation Serif", "titleFontStyle": "italic", "titleFontSize": 12, "titleColor": "#000000", "titleX": 130, "titleY": 58.5, "titleAlign": "left", "titleBaseline": "alphabetic"}},
    "y": {"field": "v", "type": "quantitative", "axis": {"orient": "left", "title": "(MJ/h)", "labels": false, "ticks": false, "domain": false, "grid": false, "titleFontSize": 14.5, "titleAngle": 270, "titleX": -36, "titleY": 134.5, "titleAlign": "left", "titleBaseline": "alphabetic"}}}},
  {"mark": {"type": "point", "opacity": 0},
   "encoding": {
    "x": {"field": "h", "type": "quantitative", "axis": {"orient": "bottom", "title": "= 50%", "labels": false, "ticks": false, "domain": false, "grid": false, "titleFont": "Liberation Serif", "titleFontSize": 20, "titleColor": "#000000", "titleX": 151.5, "titleY": 55, "titleAlign": "left", "titleBaseline": "alphabetic"}},
    "y": {"field": "v", "type": "quantitative", "axis": null}}},
  {"mark": {"type": "point", "opacity": 0},
   "encoding": {
    "x": {"field": "h", "type": "quantitative", "axis": {"orient": "bottom", "title": "(d) Testing, cooling day", "labels": false, "ticks": false, "domain": false, "grid": false, "titleFont": "Liberation Serif", "titleFontSize": 31.5, "titleColor": "#000000", "titleX": 134, "titleY": 88, "titleAlign": "center", "titleBaseline": "alphabetic"}},
    "y": {"field": "v", "type": "quantitative", "axis": null}}}
 ],
 "resolve": {"axis": {"x": "independent", "y": "independent"}}},

{"width": 313, "height": 233, "transform": [{"filter": "datum.p === 'b75'"}],
 "layer": [
  {"mark": {"type": "line", "strokeWidth": 0.8, "strokeOpacity": 0.85},
   "encoding": {
    "x": {"field": "h", "type": "quantitative", "scale": {"domain": [0, 24], "nice": false, "zero": false}, "axis": {"values": [0,2,4,6,8,10,12,14,16,18,20,22,24], "labelFlush": false, "labelOverlap": false, "title": "Hour (h)", "titleX": 156.5, "titleY": 32, "titleAlign": "center", "titleBaseline": "alphabetic", "titleFontSize": 13}},
    "y": {"field": "v", "type": "quantitative", "scale": {"domain": [0, 100], "nice": false}, "axis": {"values": [0,20,40,60,80,100], "title": "Q", "titleFontSize": 14.5, "titleAngle": 270, "titleX": -36, "titleY": 155, "titleAlign": "left", "titleBaseline": "alphabetic"}},
    "color": {"field": "s", "type": "nominal", "scale": {"domain": ["A","B","C","D"], "range": ["#2353a8","#ed1c24","#5fb030","#c87dd2"]}, "legend": null}}},
  {"mark": {"type": "point", "filled": true, "opacity": 1, "strokeWidth": 1, "size": 40},
   "encoding": {
    "x": {"field": "h", "type": "quantitative", "axis": {"orient": "bottom", "title": "R", "labels": false, "ticks": false, "domain": false, "grid": false, "titleFont": "Liberation Serif", "titleFontStyle": "italic", "titleFontSize": 20, "titleColor": "#000000", "titleX": 107, "titleY": 55, "titleAlign": "left", "titleBaseline": "alphabetic"}},
    "y": {"field": "v", "type": "quantitative", "axis": {"orient": "left", "title": "b", "labels": false, "ticks": false, "domain": false, "grid": false, "titleFontSize": 10, "titleAngle": 270, "titleX": -32.5, "titleY": 143, "titleAlign": "left", "titleBaseline": "alphabetic"}},
    "color": {"field": "s", "type": "nominal", "scale": {"domain": ["A","B","C","D"], "range": ["#2353a8","#ed1c24","#5fb030","#c87dd2"]}, "legend": null},
    "stroke": {"field": "s", "type": "nominal", "scale": {"domain": ["A","B","C","D"], "range": ["#2353a8","#ed1c24","#5fb030","#c87dd2"]}, "legend": null},
    "shape": {"field": "s", "type": "nominal", "scale": {"domain": ["A","B","C","D"], "range": ["M-0.75,-0.75L0.75,-0.75L0.75,0.75L-0.75,0.75Z","M0,-1L0.6,0L0,1L-0.6,0Z","M0,-0.95L0.95,0.75L-0.95,0.75Z","M-0.85,0L0.85,0M0,-0.85L0,0.85M-0.6,-0.6L0.6,0.6M-0.6,0.6L0.6,-0.6"]}, "legend": null}}},
  {"mark": {"type": "point", "opacity": 0},
   "encoding": {
    "x": {"field": "h", "type": "quantitative", "axis": {"orient": "bottom", "title": "win", "labels": false, "ticks": false, "domain": false, "grid": false, "titleFont": "Liberation Serif", "titleFontStyle": "italic", "titleFontSize": 12, "titleColor": "#000000", "titleX": 119.6, "titleY": 58.5, "titleAlign": "left", "titleBaseline": "alphabetic"}},
    "y": {"field": "v", "type": "quantitative", "axis": {"orient": "left", "title": "(MJ/h)", "labels": false, "ticks": false, "domain": false, "grid": false, "titleFontSize": 14.5, "titleAngle": 270, "titleX": -36, "titleY": 134.5, "titleAlign": "left", "titleBaseline": "alphabetic"}}}},
  {"mark": {"type": "point", "opacity": 0},
   "encoding": {
    "x": {"field": "h", "type": "quantitative", "axis": {"orient": "bottom", "title": "= 75%", "labels": false, "ticks": false, "domain": false, "grid": false, "titleFont": "Liberation Serif", "titleFontSize": 20, "titleColor": "#000000", "titleX": 141, "titleY": 55, "titleAlign": "left", "titleBaseline": "alphabetic"}},
    "y": {"field": "v", "type": "quantitative", "axis": null}}}
 ],
 "resolve": {"axis": {"x": "independent", "y": "independent"}}}
],
"config": {
  "view": {"stroke": null},
  "axis": {"labelFont": "Liberation Sans", "labelFontSize": 12, "labelColor": "#262626", "titleFont": "Liberation Sans", "titleFontWeight": "normal", "titleColor": "#262626", "gridColor": "#e4e4e4", "gridWidth": 1, "domainColor": "#8c8c8c", "domainWidth": 1, "ticks": true, "tickSize": -3, "tickColor": "#8c8c8c", "tickWidth": 1, "labelPadding": 8}
}
}
